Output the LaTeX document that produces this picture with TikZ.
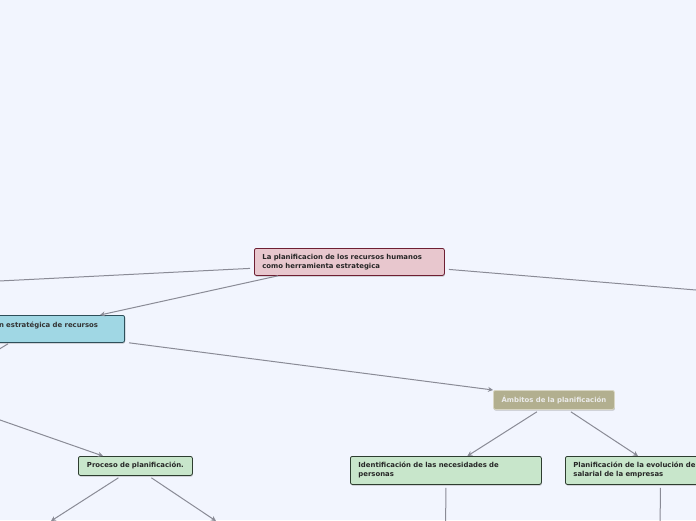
\documentclass[tikz,border=0pt]{standalone}
\usepackage{fontspec}
\setmainfont{DejaVu Sans}
\usetikzlibrary{arrows.meta,shadows}

\definecolor{paper}{HTML}{F2F5FE}
\definecolor{linkgrey}{HTML}{8A8B96}
\definecolor{rootfill}{HTML}{E8C7CE}
\definecolor{rootline}{HTML}{6E1F33}
\definecolor{bluefill}{HTML}{A0D7E4}
\definecolor{blueline}{HTML}{2F4F5A}
\definecolor{khakifill}{HTML}{B2AF8F}
\definecolor{khakiline}{HTML}{D8D6C4}
\definecolor{greenfill}{HTML}{C8E6CB}
\definecolor{greenline}{HTML}{2E3D30}

\begin{document}
\begin{tikzpicture}[x=1pt,y=-1pt]
\path[use as bounding box] (0,0) rectangle (696,520);
\fill[paper] (0,0) rectangle (696,520);
\clip (0,0) rectangle (696,520);
\tikzstyle{topic}=[rounded corners=2pt, line width=0.8pt, align=left, inner xsep=8pt, inner ysep=0pt, font=\bfseries\fontsize{6.9}{9}\selectfont, drop shadow={shadow xshift=0.5pt, shadow yshift=-1.2pt, opacity=.45}]
\tikzstyle{rootbox}=[topic, fill=rootfill, draw=rootline, text=black!85, text width=174pt, minimum height=27pt]
\tikzstyle{bluebox}=[topic, fill=bluefill, draw=blueline, text=black!80, text width=162pt, minimum height=27pt]
\tikzstyle{khakibox}=[topic, fill=khakifill, draw=khakiline, text=white!92!black, align=center, text width=105pt, minimum height=19pt]
\tikzstyle{greenbox}=[topic, fill=greenfill, draw=greenline, text=black!85]
\tikzstyle{link}=[draw=linkgrey, line width=1pt, -{Stealth[length=5pt,width=5pt]}]
\tikzstyle{plainlink}=[draw=linkgrey, line width=1pt]

\node[rootbox, anchor=north west] (root) at (254,248) {La planificacion de los recursos humanos\\como herramienta estrategica};
\node[bluebox, anchor=north east] (plan) at (125,315) {Planificación estratégica de recursos\\humanos};
\node[khakibox, anchor=north west] (ambit) at (493,390) {Ámbitos de la planificación};
\node[greenbox, anchor=north west, align=center, text width=98pt, minimum height=19pt] (proc) at (78,456) {Proceso de planificación.};
\node[greenbox, anchor=north west, text width=175pt, minimum height=28pt] (ident) at (350,456) {Identificación de las necesidades de\\personas};
\node[greenbox, anchor=north west, text width=174pt, minimum height=28pt] (salar) at (565,456) {Planificación de la evolución del\\salarial de la empresas};

% ends outside the visible part
\coordinate (farleft) at (-200,291);
\coordinate (farright) at (900,307);
\coordinate (planchild) at (-40,373);
\coordinate (procparent) at (-60,399);
\coordinate (procleft) at (51,521);
\coordinate (procright) at (216,521);
\coordinate (identchild) at (445.5,540);
\coordinate (salarchild) at (660,540);

\draw[plainlink] ([xshift=-4pt,yshift=-6.5pt]root.west) -- (farleft);
\draw[plainlink] ([xshift=4pt,yshift=-7.5pt]root.east) -- (farright);
\draw[link] ([xshift=24pt]root.south west) -- ([xshift=-25pt]plan.north east);
\draw[link] ([xshift=4pt]plan.south east) -- (ambit.north west);
\draw[plainlink] ([xshift=-117pt,yshift=-1pt]plan.south east) -- (planchild);
\draw[link] (procparent) -- ([xshift=25pt]proc.north west);
\draw[link] ([xshift=-17pt,yshift=-2pt]proc.south) -- (procleft);
\draw[link] ([xshift=16pt,yshift=-2pt]proc.south) -- (procright);
\draw[link] ([xshift=-17pt,yshift=-2pt]ambit.south) -- ([xshift=21.5pt]ident.north);
\draw[link] ([xshift=17pt,yshift=-2pt]ambit.south) -- ([xshift=73pt]salar.north west);
\draw[plainlink] ([yshift=-3pt]ident.south) -- (identchild);
\draw[plainlink] ([yshift=-3pt]salar.south) -- (salarchild);
\end{tikzpicture}
\end{document}
